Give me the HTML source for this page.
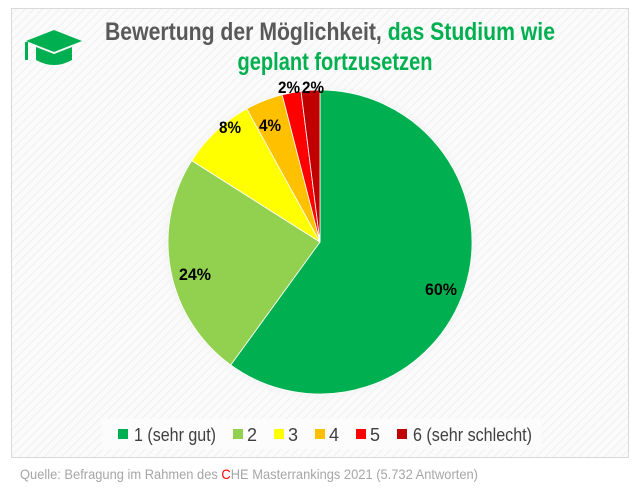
<!DOCTYPE html>
<html><head><meta charset="utf-8"><style>
body{margin:0;background:#fff;}
svg{display:block;font-family:"Liberation Sans Narrow","Liberation Sans",sans-serif;}
</style></head><body>
<svg width="641" height="501" viewBox="0 0 641 501">
<defs>
<pattern id="h" width="6" height="6" patternUnits="userSpaceOnUse" patternTransform="rotate(45)">
<rect width="6" height="6" fill="#fbfbfb"/><line x1="0" y1="0" x2="0" y2="6" stroke="#ececec" stroke-width="1.5"/></pattern>
<radialGradient id="sh" cx="0.5" cy="0.5" r="0.5"><stop offset="0.85" stop-color="#ddd"/><stop offset="1" stop-color="#fff" stop-opacity="0"/></radialGradient>
</defs>
<rect x="11.5" y="8.5" width="617" height="449" fill="url(#h)" stroke="#d9d9d9"/>
<polygon points="26,41 54,30 82,41 54,52" fill="#00b050"/>
<path d="M36,47 L36,60 Q54,70 72,60 L72,47 L54,54 Z" fill="#00b050"/>
<rect x="25" y="42" width="3" height="18" fill="#00b050"/>
<text x="330" y="40" text-anchor="middle" font-size="25" font-weight="bold" fill="#595959" textLength="450" lengthAdjust="spacingAndGlyphs">Bewertung der Möglichkeit, <tspan fill="#00b050">das Studium wie</tspan></text>
<text x="335" y="70" text-anchor="middle" font-size="25" font-weight="bold" fill="#00b050" textLength="195" lengthAdjust="spacingAndGlyphs">geplant fortzusetzen</text>
<circle cx="320" cy="242" r="164" fill="url(#sh)"/>
<g stroke="#fff" stroke-width="0.8">
<path d="M320,242 L320,90 A152,152 0 1 1 230.7,365 Z" fill="#00b050"/>
<path d="M320,242 L230.7,365 A152,152 0 0 1 191.7,160.6 Z" fill="#92d050"/>
<path d="M320,242 L191.7,160.6 A152,152 0 0 1 246.8,108.8 Z" fill="#ffff00"/>
<path d="M320,242 L246.8,108.8 A152,152 0 0 1 282.2,94.8 Z" fill="#ffc000"/>
<path d="M320,242 L282.2,94.8 A152,152 0 0 1 301,91.2 Z" fill="#ff0000"/>
<path d="M320,242 L301,91.2 A152,152 0 0 1 320,90 Z" fill="#c00000"/>
</g>
<g font-size="17" font-weight="bold" fill="#000" text-anchor="middle">
<text x="441" y="295" textLength="32" lengthAdjust="spacingAndGlyphs">60%</text>
<text x="195" y="280" textLength="32" lengthAdjust="spacingAndGlyphs">24%</text>
<text x="230" y="133" textLength="22" lengthAdjust="spacingAndGlyphs">8%</text>
<text x="270" y="131" textLength="22" lengthAdjust="spacingAndGlyphs">4%</text>
<text x="289" y="93" textLength="22" lengthAdjust="spacingAndGlyphs">2%</text>
<text x="313" y="93" textLength="22" lengthAdjust="spacingAndGlyphs">2%</text>
</g>
<rect x="102" y="419" width="439" height="30" fill="#fcfcfc"/>
<g font-size="18" fill="#404040">
<rect x="118" y="429" width="10" height="10" fill="#00b050"/><text x="134" y="441" textLength="82" lengthAdjust="spacingAndGlyphs">1 (sehr gut)</text>
<rect x="233" y="429" width="10" height="10" fill="#92d050"/><text x="247" y="441">2</text>
<rect x="274" y="429" width="10" height="10" fill="#ffff00"/><text x="288" y="441">3</text>
<rect x="315" y="429" width="10" height="10" fill="#ffc000"/><text x="329" y="441">4</text>
<rect x="356" y="429" width="10" height="10" fill="#ff0000"/><text x="370" y="441">5</text>
<rect x="397" y="429" width="10" height="10" fill="#c00000"/><text x="413" y="441" textLength="119" lengthAdjust="spacingAndGlyphs">6 (sehr schlecht)</text>
</g>
<text x="20" y="479" font-size="14" fill="#a6a6a6" textLength="458" lengthAdjust="spacingAndGlyphs">Quelle: Befragung im Rahmen des <tspan fill="#ff0000">C</tspan>HE Masterrankings 2021 (5.732 Antworten)</text>
</svg>
</body></html>
